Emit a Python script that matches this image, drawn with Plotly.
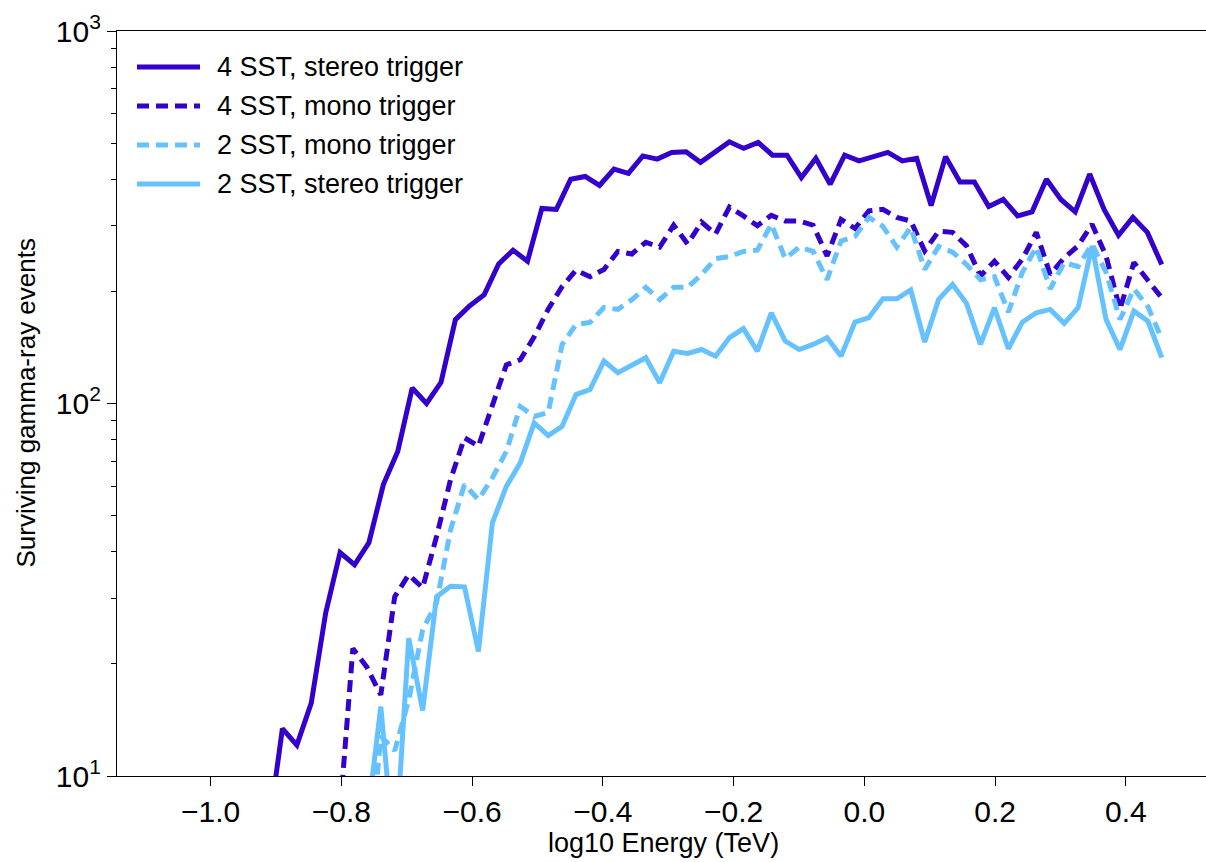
import numpy as np
import plotly.graph_objects as go

# ---------------- data ----------------
# energy bin centres, log10(E/TeV) (uniform log bins)
x_4sst_stereo = np.round(-0.9122 + 0.022049 * np.arange(63), 4)
x_other = np.round(-0.8037 + 0.021332 * np.arange(60), 4)   # bins for the other three curves

stereo_4sst = [7, 13.4, 12.1, 15.7, 27.4, 39.8, 36.9, 42.3, 60.6, 74.3, 110, 100, 114, 168, 183,
               196, 237, 258, 241, 334, 332, 400, 407, 385, 426, 415, 462, 453, 472, 474, 444,
               474, 504, 484, 502, 464, 464, 404, 455, 388, 464, 448, 460, 472, 448, 455, 340,
               460, 393, 393, 338, 353, 319, 327, 400, 353, 327, 413, 332, 283, 316, 288, 236]

mono_4sst = [7.4, 22.0, 19.6, 16.5, 30.3, 34.7, 32.0, 44.0, 62.5, 80.9, 76.8, 98.4, 127, 131, 151,
             179, 206, 228, 219, 229, 256, 252, 271, 263, 301, 268, 307, 285, 337, 319, 300, 320,
             309, 309, 301, 249, 312, 295, 329, 332, 316, 309, 257, 290, 288, 265, 220, 241, 218,
             244, 288, 222, 246, 265, 303, 249, 179, 239, 215, 192]

mono_2sst = [None, None, 5, 12.8, 11.7, 16.0, 24.7, 29.2, 45.8, 60.6, 55.2, 63.2, 74.3, 98.2, 92.3,
             94.6, 144, 163, 165, 181, 179, 190, 205, 190, 205, 205, 222, 245, 248, 256, 258, 303,
             245, 263, 256, 215, 273, 281, 316, 299, 263, 297, 229, 264, 255, 236, 215, 219, 176,
             225, 263, 203, 239, 233, 268, 225, 168, 203, 182, 149]

stereo_2sst = [None, None, 7.5, 15.35, 5.9, 23.45, 15.0, 30.3, 32.3, 32.2, 21.6, 47.8, 59.9, 69.3,
               88.7, 82.0, 86.9, 105.7, 109, 130, 121, 126.5, 132.7, 113.7, 138.2, 136.3, 139.6,
               134, 150.2, 158.9, 138.2, 175.2, 147.1, 139.6, 144.1, 150.2, 134, 165.4, 170, 191,
               191, 201.7, 146.2, 190.3, 208.8, 185.7, 144.1, 180.8, 140.3, 165.4, 175.2, 178.9,
               164.1, 180.8, 264.7, 168.2, 139.6, 177.1, 166.4, 132.7]

labels = ["4 SST, stereo trigger", "4 SST, mono trigger", "2 SST, mono trigger", "2 SST, stereo trigger"]
x_ticks = [-1.0, -0.8, -0.6, -0.4, -0.2, 0.0, 0.2, 0.4]
x_tick_text = ["\u22121.0", "\u22120.8", "\u22120.6", "\u22120.4", "\u22120.2", "0.0", "0.2", "0.4"]
y_ticks = [10, 100, 1000]
y_tick_text = ["10<sup>1</sup>", "10<sup>2</sup>", "10<sup>3</sup>"]
y_minor = [20, 30, 40, 50, 60, 70, 80, 90, 200, 300, 400, 500, 600, 700, 800, 900]

# ---------------- styling ----------------
DARK = "#3300cc"
LIGHT = "#66c2ff"
DASH = "12px,7px"
FONT = "Liberation Sans, Arial, sans-serif"
W, H = 1206, 862
L, R, T, B = 117, 0, 31, 86

series = [
    (x_4sst_stereo, stereo_4sst, DARK, "solid"),
    (x_other, mono_4sst, DARK, DASH),
    (x_other, mono_2sst, LIGHT, DASH),
    (x_other, stereo_2sst, LIGHT, "solid"),
]

fig = go.Figure()
for (xs, ys, col, dash), name in zip(series, labels):
    fig.add_trace(go.Scatter(x=xs, y=ys, mode="lines", name=name,
                             line=dict(color=col, width=5, dash=dash),
                             connectgaps=False, showlegend=False))

# manual legend (longer line samples, as in the reference)
pw, ph = W - L - R, H - T - B
def px_x(p): return (p - L) / pw
def px_y(p): return (H - B - p) / ph

leg_rows = [67, 106, 145, 184]
for (xs, ys, col, dash), name, ry in zip(series, labels, leg_rows):
    fig.add_shape(type="line", xref="paper", yref="paper",
                  x0=px_x(137), x1=px_x(200), y0=px_y(ry), y1=px_y(ry),
                  line=dict(color=col, width=5, dash=dash))
    fig.add_annotation(xref="paper", yref="paper", x=px_x(215), y=px_y(ry),
                       text=name, showarrow=False, xanchor="left", yanchor="middle",
                       font=dict(size=27, color="black", family=FONT))

# axis titles
fig.add_annotation(xref="paper", yref="paper", x=px_x(663), y=px_y(843),
                   text="log10 Energy (TeV)", showarrow=False, xanchor="center",
                   yanchor="middle", font=dict(size=27, color="black", family=FONT))
fig.add_annotation(xref="paper", yref="paper", x=px_x(25), y=0.5,
                   text="Surviving gamma-ray events", showarrow=False, textangle=-90,
                   xanchor="center", yanchor="middle", font=dict(size=26, color="black", family=FONT))

fig.update_layout(
    width=W, height=H,
    margin=dict(l=L, r=R, t=T, b=B, pad=0),
    paper_bgcolor="white", plot_bgcolor="white",
    font=dict(family=FONT, color="black"),
    xaxis=dict(range=[-1.1432, 0.5225], tickmode="array", tickvals=x_ticks, ticktext=x_tick_text,
               showgrid=False, zeroline=False, showline=True, linecolor="black", linewidth=1.3,
               mirror=True, ticks="outside", ticklen=9, tickwidth=1.3, tickcolor="black",
               tickfont=dict(size=30, family=FONT)),
    yaxis=dict(type="log", range=[1, 3], tickmode="array", tickvals=y_ticks, ticktext=y_tick_text,
               showgrid=False, zeroline=False, showline=True, linecolor="black", linewidth=1.3,
               ticks="outside", ticklen=9, tickwidth=1.3, tickcolor="black",
               tickfont=dict(size=30, family=FONT),
               minor=dict(tickmode="array", tickvals=y_minor, ticks="outside", ticklen=5,
                          tickwidth=1.1, tickcolor="black", showgrid=False)),
)

fig.write_html("out.html")
